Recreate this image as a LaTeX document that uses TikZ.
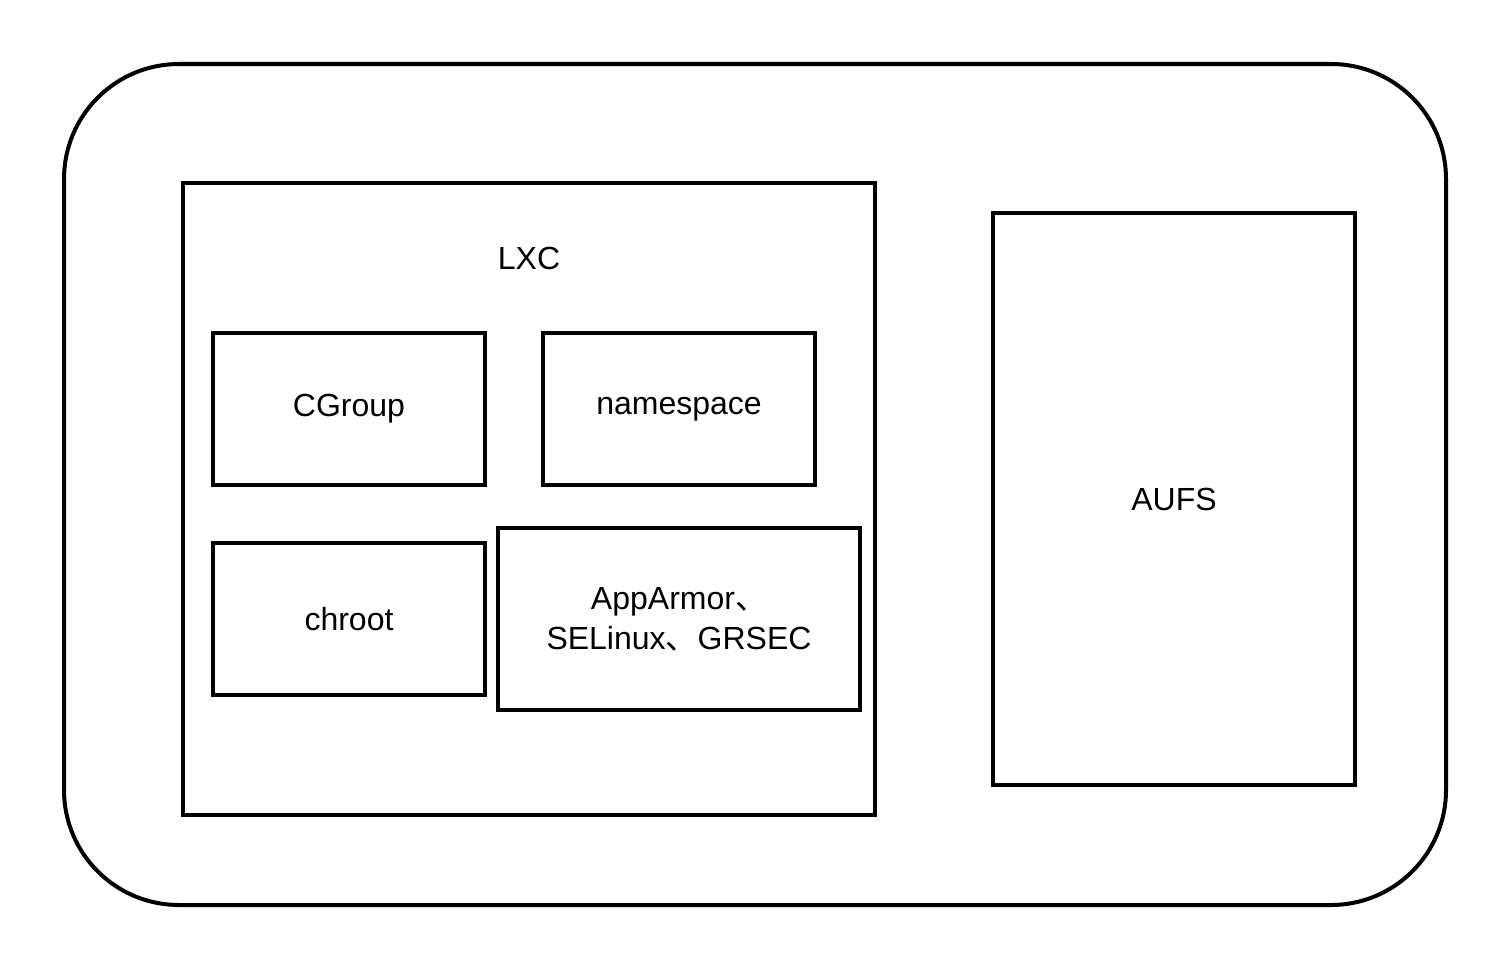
\documentclass[tikz,border=0pt]{standalone}
\usepackage{fontspec}
\setmainfont{Liberation Sans}
\newfontfamily\cjk{Noto Sans CJK SC}
\begin{document}
\begin{tikzpicture}[x=1pt,y=-1pt,
  box/.style={draw=black,line width=4pt,inner sep=0pt,align=center,font=\fontsize{32}{40}\selectfont},
  lbl/.style={font=\fontsize{32}{40}\selectfont}]
\useasboundingbox (0,0) rectangle (1506,966);
\draw[line width=4pt,rounded corners=115pt] (64,64) rectangle (1446,905);
\node[box,minimum width=692pt,minimum height=632pt] (lxc) at (529,499) {};
\node[lbl] (lxct) at (529,258) {LXC};
\node[box,minimum width=272pt,minimum height=152pt] (cg) at (349,409) {CGroup};
\node[box,minimum width=272pt,minimum height=152pt] (ns) at (679,409) {namespace};
\node[box,minimum width=272pt,minimum height=152pt] (ch) at (349,619) {chroot};
\node[box,minimum width=362pt,minimum height=182pt] (aa) at (679,619) {AppArmor{\cjk 、}\\SELinux{\cjk 、}GRSEC};
\node[box,minimum width=362pt,minimum height=572pt] (au) at (1174,499) {AUFS};
\end{tikzpicture}
\end{document}
